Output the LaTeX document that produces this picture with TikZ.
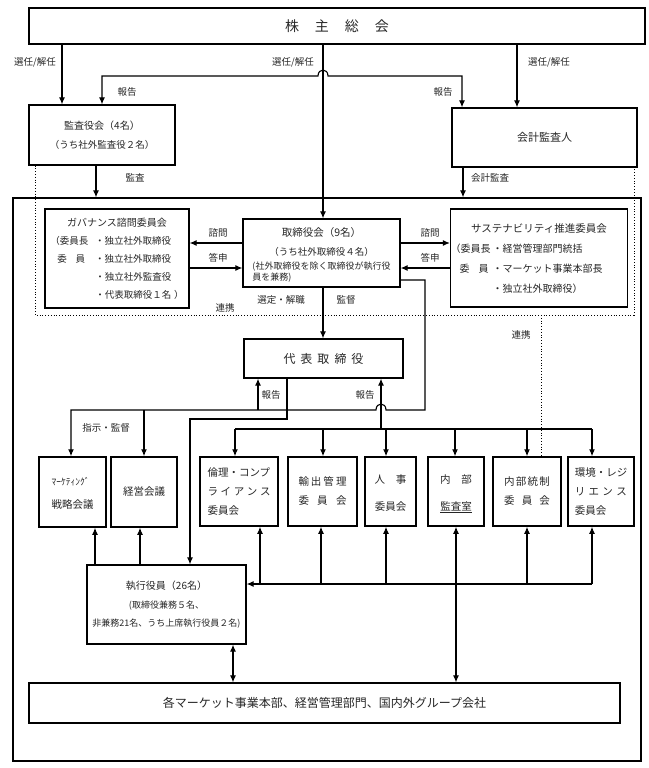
\documentclass[tikz,border=0pt]{standalone}
\usepackage{fontspec}
\setmainfont{Noto Sans CJK JP}
\usetikzlibrary{arrows.meta}
\begin{document}
\begin{tikzpicture}[x=1pt,y=-1pt,
  box/.style={draw, line width=1.3pt, inner sep=0pt, align=center, text=black!85},
  cbox/.style={box, line width=1.5pt, minimum height=69, font=\fontsize{10.5}{19}\selectfont},
  ln/.style={line width=1.1pt},
  arr/.style={ln, -{Latex[length=7pt,width=6pt]}},
  darr/.style={ln, {Latex[length=7pt,width=6pt]}-{Latex[length=7pt,width=6pt]}},
  dotl/.style={line width=0.8pt, dotted},
  lab/.style={font=\fontsize{9.5}{11}\selectfont, inner sep=0pt, text=black!85},
]
\useasboundingbox (0,0) rectangle (648,768);

% ---------- boxes ----------
\node[box, minimum width=628, minimum height=563] (frame) at (327,479.5) {};
\node[box, minimum width=616, minimum height=36, font=\fontsize{14}{16}\selectfont] (gm) at (337,26) {株\hspace{16pt}主\hspace{16pt}総\hspace{16pt}会};
\node[box, minimum width=146, minimum height=60, font=\fontsize{10}{19}\selectfont] (kansa) at (102,135)
  {\begin{tabular}{@{}c@{}}監査役会（4名）\\{\fontsize{9.5}{10}\selectfont （うち社外監査役２名）}\end{tabular}};
\node[box, minimum width=185, minimum height=59, font=\fontsize{11}{13}\selectfont] (kaikei) at (544.5,137.5) {会計監査人};

\node[box, minimum width=144, minimum height=99, font=\fontsize{9.5}{18}\selectfont] (gov) at (117,258.5)
  {\begin{tabular}{@{}l@{\hspace{7pt}}l@{}}
   \multicolumn{2}{@{}c@{}}{\fontsize{10}{18}\selectfont ガバナンス諮問委員会}\\
   （委員長 & ・独立社外取締役\\
   \hspace{7pt}委\hspace{9pt}員 & ・独立社外取締役\\
   & ・独立社外監査役\\
   & ・代表取締役１名\hspace{3pt}）
   \end{tabular}};
\node[box, minimum width=157, minimum height=68, font=\fontsize{9.5}{19}\selectfont] (tori) at (321.5,253)
  {\begin{tabular}{@{}c@{}}
   {\fontsize{10.5}{19}\selectfont 取締役会（9名）}\\
   （うち社外取締役４名）\\[-5pt]
   {\fontsize{9}{11}\selectfont\begin{tabular}[t]{@{}l@{}}(社外取締役を除く取締役が執行役\\員を兼務)\end{tabular}}
   \end{tabular}};
\node[box, minimum width=174, minimum height=98, font=\fontsize{10}{20}\selectfont] (sus) at (539,258)
  {\begin{tabular}{@{}l@{\hspace{2pt}}l@{\hspace{25pt}}}
   \multicolumn{2}{@{}c@{}}{\fontsize{10.5}{20}\selectfont サステナビリティ推進委員会}\\
   （委員長 & ・経営管理部門統括\\
   \hspace{9pt}委\hspace{9pt}員 & ・マーケット事業本部長\\
   & ・独立社外取締役）
   \end{tabular}};

\node[box, minimum width=159, minimum height=39, font=\fontsize{12}{14}\selectfont] (daihyo) at (323.5,358.5)
  {代\hspace{5pt}表\hspace{5pt}取\hspace{5pt}締\hspace{5pt}役};

\node[cbox, minimum width=67, minimum height=70, font=\fontsize{10.5}{23}\selectfont] (mkt) at (72.5,492)
  {\begin{tabular}{@{}l@{}}{\fontsize{9.5}{10}\selectfont ﾏｰｹﾃｨﾝｸﾞ}\\戦略会議\end{tabular}};
\node[cbox, minimum width=66, minimum height=70] (keiei) at (144,492) {経営会議};
\node[cbox, minimum width=78] (rinri) at (239,491.5)
  {\begin{tabular}{@{}l@{}}倫理・コンプ\\\hbox to 63pt{ラ\hfill イ\hfill ア\hfill ン\hfill ス}\\委員会\end{tabular}};
\node[cbox, minimum width=69] (yushutsu) at (322.5,491.5)
  {\begin{tabular}{@{}c@{}}\hbox to 48pt{輸\hfill 出\hfill 管\hfill 理}\\\hbox to 48pt{委\hfill 員\hfill 会}\end{tabular}};
\node[cbox, minimum width=51, font=\fontsize{10.5}{27}\selectfont] (jinji) at (390.5,491.5)
  {\begin{tabular}{@{}c@{}}\hbox to 32pt{人\hfill 事}\\委員会\end{tabular}};
\node[cbox, minimum width=56, font=\fontsize{10.5}{27}\selectfont] (naibu) at (456,491.5)
  {\begin{tabular}{@{}c@{}}\hbox to 32pt{内\hfill 部}\\\underline{監査室}\end{tabular}};
\node[cbox, minimum width=68] (toseki) at (527,491.5)
  {\begin{tabular}{@{}c@{}}\hbox to 46pt{内\hfill 部\hfill 統\hfill 制}\\\hbox to 46pt{委\hfill 員\hfill 会}\end{tabular}};
\node[cbox, minimum width=66] (kankyo) at (601,491.5)
  {\begin{tabular}{@{}l@{}}環境・レジ\\\hbox to 52pt{リ\hfill エ\hfill ン\hfill ス}\\委員会\end{tabular}};

\node[box, minimum width=159, minimum height=79, font=\fontsize{9}{18.5}\selectfont] (shikko) at (166.5,604.5)
  {\begin{tabular}{@{}c@{}}{\fontsize{10}{18.5}\selectfont 執行役員（26名）}\\(取締役兼務５名、\\非兼務21名、うち上席執行役員２名)\end{tabular}};
\node[box, minimum width=591, minimum height=40, font=\fontsize{12}{14}\selectfont] (kaku) at (324.5,703)
  {各マーケット事業本部、経営管理部門、国内外グループ会社};

% ---------- helper coordinates ----------
\coordinate (c62) at (62,0);
\coordinate (c323) at (323,0);
\coordinate (c517) at (517,0);
\coordinate (c102) at (102,0);
\coordinate (c462) at (462,0);
\coordinate (rep) at (0,76);
\coordinate (c96) at (96,0);
\coordinate (c463) at (463,0);
\coordinate (dotBL) at (35,315);
\coordinate (dotBR) at (634,315);
\coordinate (dotM) at (541,315);
\coordinate (y243) at (0,243);
\coordinate (y268) at (0,268);
\coordinate (k0) at (425,280);
\coordinate (k1) at (425,410);
\coordinate (k2) at (71,410);
\coordinate (k3) at (144,410);
\coordinate (r1) at (258,410);
\coordinate (r2) at (381,429);
\coordinate (d1) at (287,419);
\coordinate (d2) at (190,419);
\coordinate (c95) at (95,0);
\coordinate (c140) at (140,0);
\coordinate (c233) at (233,0);
\coordinate (ua) at (456,0);

% ---------- top connectors ----------
\draw[arr] (gm.south -| c62) -- (kansa.north -| c62);
\draw[arr] (gm.south -| c323) -- (tori.north -| c323);
\draw[arr] (gm.south -| c517) -- (kaikei.north -| c517);
\draw[darr] (kansa.north -| c102) -- (c102 |- rep) -- (318,76)
  .. controls (318,68) and (328,68) .. (328,76) -- (c462 |- rep) -- (kaikei.north -| c462);
\draw[arr] (kansa.south -| c96) -- (frame.north -| c96);
\draw[arr] (kaikei.south -| c463) -- (frame.north -| c463);

% dotted cooperation lines
\draw[dotl] (kansa.south -| dotBL) -- (dotBL) -- (dotBR) -- (kaikei.south -| dotBR);
\draw[dotl] (dotM) -- (toseki.north -| dotM);

% board <-> committees
\draw[arr] (tori.west |- y243) -- (gov.east |- y243);
\draw[arr] (gov.east |- y268) -- (tori.west |- y268);
\draw[arr] (tori.east |- y243) -- (sus.west |- y243);
\draw[arr] (sus.west |- y268) -- (tori.east |- y268);

% board -> representative director
\draw[arr] (tori.south -| c323) -- (daihyo.north -| c323);

% supervision line with hop
\draw[arr] (tori.east |- k0) -- (k0) -- (k1) -- (386,410)
  .. controls (386,402) and (376,402) .. (376,410) -- (k2) -- (mkt.north -| k2);
\draw[arr] (k3) -- (keiei.north -| k3);
\draw[arr] (r1) -- (daihyo.south -| r1);
\draw[arr] (daihyo.south -| d1) -- (d1) -- (d2) -- (shikko.north -| d2);
\draw[arr] (r2) -- (daihyo.south -| r2);

% upper bus to committees
\foreach \n/\x in {rinri/235, yushutsu/323, jinji/386, naibu/455, toseki/527, kankyo/592}{
  \coordinate (t\n) at (\x,429);
  \draw[arr] (t\n) -- (\n.north -| t\n);
}
\draw[ln] (trinri) -- (tkankyo);

% lower bus from committees to executive officers
\foreach \n/\x in {rinri/260, yushutsu/321, jinji/386, toseki/527, kankyo/592}{
  \coordinate (u\n) at (\x,584);
  \draw[arr] (u\n) -- (\n.south -| u\n);
}
\draw[arr] (ukankyo) -- (shikko.east |- ukankyo);
\draw[darr] (naibu.south -| ua) -- (kaku.north -| ua);

% executive officers
\draw[arr] (shikko.north -| c95) -- (mkt.south -| c95);
\draw[arr] (shikko.north -| c140) -- (keiei.south -| c140);
\draw[darr] (shikko.south -| c233) -- (kaku.north -| c233);

% ---------- labels ----------
\node[lab] (l1) at (35,62) {選任/解任};
\node[lab] (l2) at (293,62) {選任/解任};
\node[lab] (l3) at (549,62) {選任/解任};
\node[lab] (l4) at (127,92) {報告};
\node[lab] (l5) at (443,92) {報告};
\node[lab] (l6) at (135,178) {監査};
\node[lab] (l7) at (490,178) {会計監査};
\node[lab] (l8) at (218,233) {諮問};
\node[lab] (l9) at (218,258) {答申};
\node[lab] (l10) at (430,233) {諮問};
\node[lab] (l11) at (430,258) {答申};
\node[lab] (l12) at (281,300) {選定・解職};
\node[lab] (l13) at (346,300) {監督};
\node[lab] (l14) at (225,308) {連携};
\node[lab] (l15) at (521,335) {連携};
\node[lab] (l16) at (271,395) {報告};
\node[lab] (l17) at (365,395) {報告};
\node[lab] (l18) at (106,428) {指示・監督};
\end{tikzpicture}
\end{document}
